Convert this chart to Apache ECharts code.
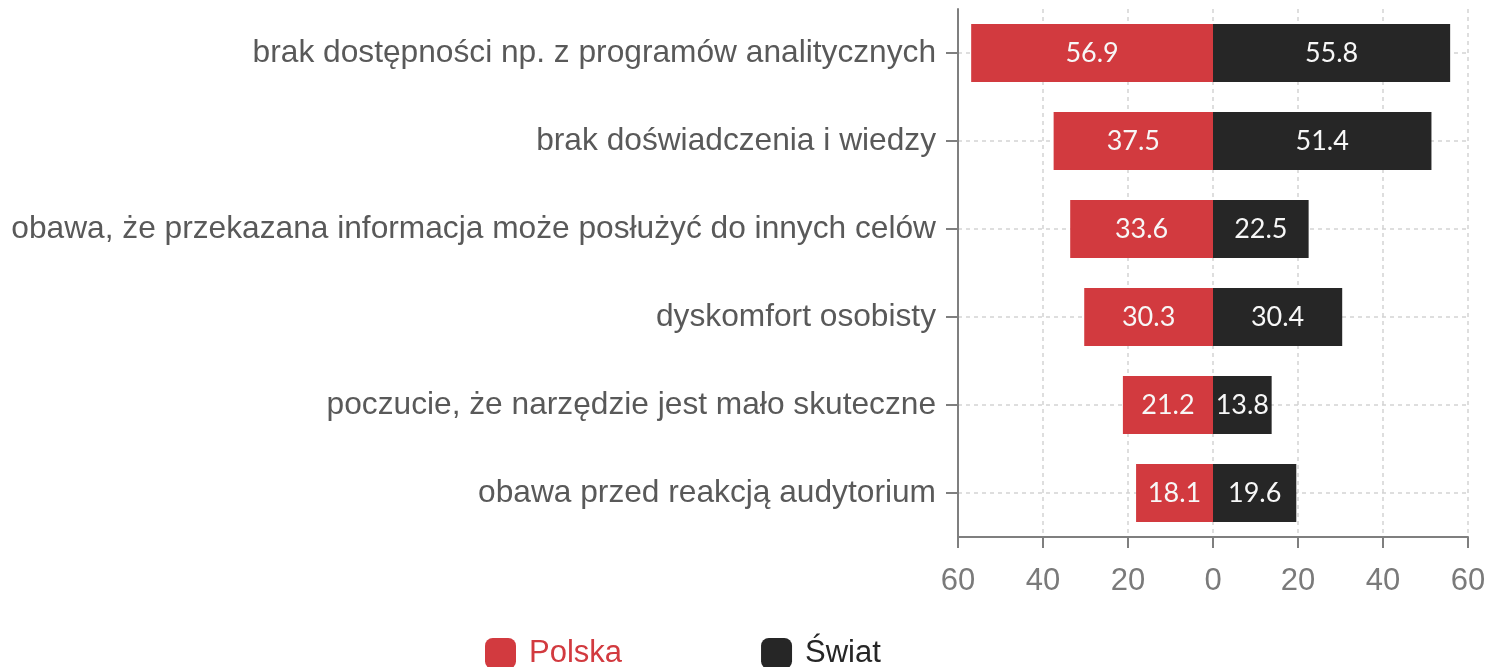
<!DOCTYPE html>
<html>
<head>
<meta charset="utf-8">
<script src="https://cdn.jsdelivr.net/npm/echarts@6/dist/echarts.min.js"></script>
<style>
html,body{margin:0;padding:0;background:#fff;}
#chart{width:1490px;height:667px;}
</style>
</head>
<body>
<div id="chart"></div>
<script>
const categories = [
  'brak dostępności np. z programów analitycznych',
  'brak doświadczenia i wiedzy',
  'obawa, że przekazana informacja może posłużyć do innych celów',
  'dyskomfort osobisty',
  'poczucie, że narzędzie jest mało skuteczne',
  'obawa przed reakcją audytorium'
];
const polska = [56.9, 37.5, 33.6, 30.3, 21.2, 18.1];
const swiat = [55.8, 51.4, 22.5, 30.4, 13.8, 19.6];
const seriesNames = ['Polska', 'Świat'];

const RED = '#d23a3f';
const DARK = '#262626';

const chart = echarts.init(document.getElementById('chart'));
chart.setOption({
  animation: false,
  grid: { left: 958, right: 22, top: 9, bottom: 130, containLabel: false },
  legend: {
    left: 480, top: 633,
    itemWidth: 31, itemHeight: 31, itemGap: 139,
    icon: 'roundRect',
    textStyle: { fontFamily: 'Liberation Sans', fontSize: 31, padding: [0, 0, 0, 8] },
    data: [
      { name: seriesNames[0], textStyle: { color: RED } },
      { name: seriesNames[1], textStyle: { color: DARK } }
    ]
  },
  xAxis: {
    type: 'value', min: -60, max: 60, interval: 20,
    axisLine: { show: true, onZero: false, lineStyle: { color: '#7f7f7f', width: 2 } },
    axisTick: { show: true, length: 11, lineStyle: { color: '#7f7f7f', width: 2 } },
    axisLabel: {
      formatter: v => Math.abs(v),
      fontFamily: 'Liberation Sans', fontSize: 31, color: '#7a7a7a', margin: 29
    },
    splitLine: { show: true, lineStyle: { type: [4, 4], color: '#d4d4d4', width: 1.5 } }
  },
  yAxis: {
    type: 'category', inverse: true, data: categories,
    axisLine: { show: true, onZero: false, lineStyle: { color: '#7f7f7f', width: 2 } },
    axisTick: { show: true, alignWithLabel: true, length: 12, lineStyle: { color: '#7f7f7f', width: 2 } },
    axisLabel: { fontFamily: 'Liberation Sans', fontSize: 31.7, color: '#595959', margin: 22 },
    splitLine: { show: true, alignWithLabel: true, lineStyle: { type: [4, 4], color: '#d4d4d4', width: 1.5 } }
  },
  series: [
    {
      name: seriesNames[0], type: 'bar', stack: 'all', barWidth: 58,
      itemStyle: { color: RED },
      label: {
        show: true, position: 'inside', formatter: p => Math.abs(p.value).toFixed(1),
        fontFamily: 'Lato', fontSize: 27, color: '#f7f7f7'
      },
      data: polska.map(v => -v)
    },
    {
      name: seriesNames[1], type: 'bar', stack: 'all', barWidth: 58,
      itemStyle: { color: DARK },
      label: {
        show: true, position: 'inside', formatter: p => Math.abs(p.value).toFixed(1),
        fontFamily: 'Lato', fontSize: 27, color: '#f7f7f7'
      },
      data: swiat
    }
  ]
});
</script>
</body>
</html>
